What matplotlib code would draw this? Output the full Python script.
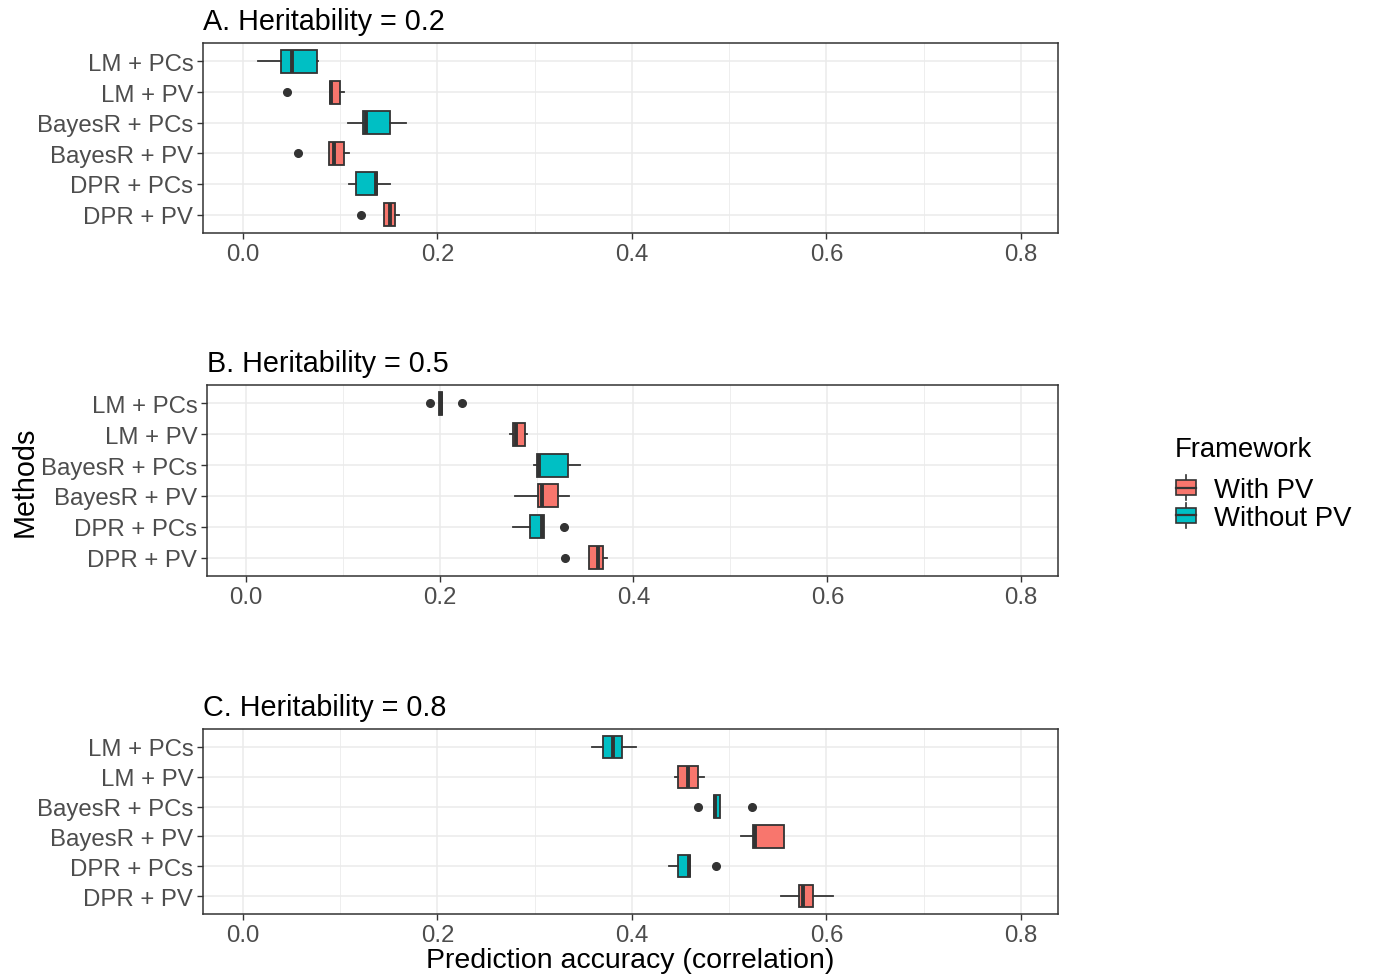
import matplotlib.pyplot as plt
from matplotlib.legend_handler import HandlerBase
from matplotlib.patches import Rectangle
from matplotlib.lines import Line2D

plt.rcParams['font.family'] = ['Liberation Sans', 'DejaVu Sans']

methods = ['LM + PCs', 'LM + PV', 'BayesR + PCs', 'BayesR + PV', 'DPR + PCs', 'DPR + PV']
framework = ['Without PV', 'With PV', 'Without PV', 'With PV', 'Without PV', 'With PV']
titles = ['A. Heritability = 0.2', 'B. Heritability = 0.5', 'C. Heritability = 0.8']

# per panel: whisker low, q1, median, q3, whisker high, outliers
h02_lo = [0.016, 0.0895, 0.1076, 0.0887, 0.1086, 0.1448]
h02_q1 = [0.039, 0.0895, 0.124, 0.0887, 0.1164, 0.1448]
h02_med = [0.051, 0.0905, 0.127, 0.0932, 0.1373, 0.151]
h02_q3 = [0.076, 0.0997, 0.151, 0.104, 0.138, 0.1568]
h02_hi = [0.077, 0.1035, 0.1676, 0.1086, 0.151, 0.160]
h02_out = [[], [0.045], [], [0.057], [], [0.1215]]

h05_lo = [0.1993, 0.2724, 0.297, 0.2776, 0.2755, 0.3538]
h05_q1 = [0.1993, 0.276, 0.3003, 0.302, 0.2934, 0.3538]
h05_med = [0.201, 0.279, 0.3024, 0.3055, 0.306, 0.363]
h05_q3 = [0.2028, 0.288, 0.3327, 0.3217, 0.3076, 0.3686]
h05_hi = [0.2028, 0.2897, 0.3445, 0.334, 0.3076, 0.3727]
h05_out = [[0.190, 0.223], [], [], [], [0.328], [0.3296]]

h08_lo = [0.3586, 0.4447, 0.4841, 0.5121, 0.4376, 0.5535]
h08_q1 = [0.3703, 0.4475, 0.4841, 0.5244, 0.4475, 0.5716]
h08_med = [0.380, 0.458, 0.4855, 0.5268, 0.4585, 0.5754]
h08_q3 = [0.390, 0.4683, 0.4909, 0.5562, 0.4598, 0.5863]
h08_hi = [0.4037, 0.4742, 0.4909, 0.5562, 0.4598, 0.6062]
h08_out = [[], [], [0.4683, 0.523], [], [0.4865], []]

panels = [
    (h02_lo, h02_q1, h02_med, h02_q3, h02_hi, h02_out),
    (h05_lo, h05_q1, h05_med, h05_q3, h05_hi, h05_out),
    (h08_lo, h08_q1, h08_med, h08_q3, h08_hi, h08_out),
]

colors = {'With PV': '#F8766D', 'Without PV': '#00BFC4'}
edge = '#333333'

fig = plt.figure(figsize=(13.75, 9.78), dpi=100)
W, H = 1375, 978
# (left, top, bottom, xmin) in pixels / data units
boxes = [(203, 44, 234, -0.041), (207, 386, 577, -0.040), (203, 730, 915, -0.041)]
right = 1058

for (left, top, bot, xmin), title, (lo, q1, med, q3, hi, out) in zip(boxes, titles, panels):
    ax = fig.add_axes([left / W, 1 - bot / H, (right - left) / W, (bot - top) / H])
    stats = []
    for i in range(len(methods)):
        stats.append(dict(whislo=lo[i], q1=q1[i], med=med[i], q3=q3[i],
                          whishi=hi[i], fliers=out[i]))
    pos = list(range(len(methods), 0, -1))
    bp = ax.bxp(stats, positions=pos, orientation='horizontal', widths=0.75,
                patch_artist=True, showcaps=False,
                boxprops=dict(edgecolor=edge, linewidth=1.3),
                medianprops=dict(color=edge, linewidth=2.8, solid_capstyle='butt'),
                whiskerprops=dict(color=edge, linewidth=1.3),
                flierprops=dict(marker='o', markerfacecolor=edge, markeredgecolor=edge,
                                markersize=5.5))
    for patch, fw in zip(bp['boxes'], framework):
        patch.set_facecolor(colors[fw])
    for m in bp['medians']:
        m.set_zorder(4)
    ax.set_xlim(xmin, 0.838)
    ax.set_ylim(0.4, 6.6)
    ax.set_xticks([0.0, 0.2, 0.4, 0.6, 0.8])
    ax.set_xticklabels(['0.0', '0.2', '0.4', '0.6', '0.8'])
    ax.set_xticks([0.1, 0.3, 0.5, 0.7], minor=True)
    ax.set_yticks(pos)
    ax.set_yticklabels(methods)
    ax.grid(True, which='major', color='#EBEBEB', linewidth=1.1, zorder=0)
    ax.grid(True, which='minor', axis='x', color='#EBEBEB', linewidth=0.6, zorder=0)
    ax.set_axisbelow(True)
    ax.tick_params(axis='both', which='major', labelsize=17.3, labelcolor='#4D4D4D',
                   color='#333333', length=4, width=1, pad=3)
    ax.tick_params(axis='x', which='minor', length=0)
    for s in ax.spines.values():
        s.set_color('#333333')
        s.set_linewidth(1.1)
    ax.set_title(title, loc='left', fontsize=20.7, pad=10, x=0.0)

fig.text(25 / W, 1 - 482 / H, 'Methods', rotation=90, ha='center', va='center', fontsize=20.7)
fig.text(630 / W, 1 - 961 / H, 'Prediction accuracy (correlation)', ha='center', va='center',
         fontsize=20.5)


class BoxHandler(HandlerBase):
    def create_artists(self, legend, orig_handle, xdescent, ydescent, width, height,
                       fontsize, trans):
        bw = width * 0.8
        x0 = (width - bw) / 2 - xdescent
        rect = Rectangle((x0, -ydescent + height * 0.2), bw, height * 0.6,
                         facecolor=orig_handle.get_facecolor(), edgecolor=edge,
                         linewidth=1.2, transform=trans)
        mid = -ydescent + height / 2
        ml = Line2D([x0, x0 + bw], [mid, mid], color=edge, linewidth=1.6, transform=trans)
        vl = Line2D([width / 2 - xdescent] * 2, [-ydescent, -ydescent + height],
                    color=edge, linewidth=1.2, transform=trans)
        return [vl, rect, ml]


fig.text(1175 / W, 1 - 450 / H, 'Framework', ha='left', va='center', fontsize=19.8)
handles = [Rectangle((0, 0), 1, 1, facecolor=colors['With PV']),
           Rectangle((0, 0), 1, 1, facecolor=colors['Without PV'])]
leg = fig.legend(handles, ['With PV', 'Without PV'],
                 handler_map={Rectangle: BoxHandler()},
                 loc='center left', bbox_to_anchor=(1174 / W, 1 - 504 / H),
                 frameon=False, fontsize=19.8, borderpad=0,
                 handlelength=0.9, handleheight=1.0, labelspacing=0.0,
                 handletextpad=0.55, borderaxespad=0)

fig.savefig('out.png', dpi=100)
